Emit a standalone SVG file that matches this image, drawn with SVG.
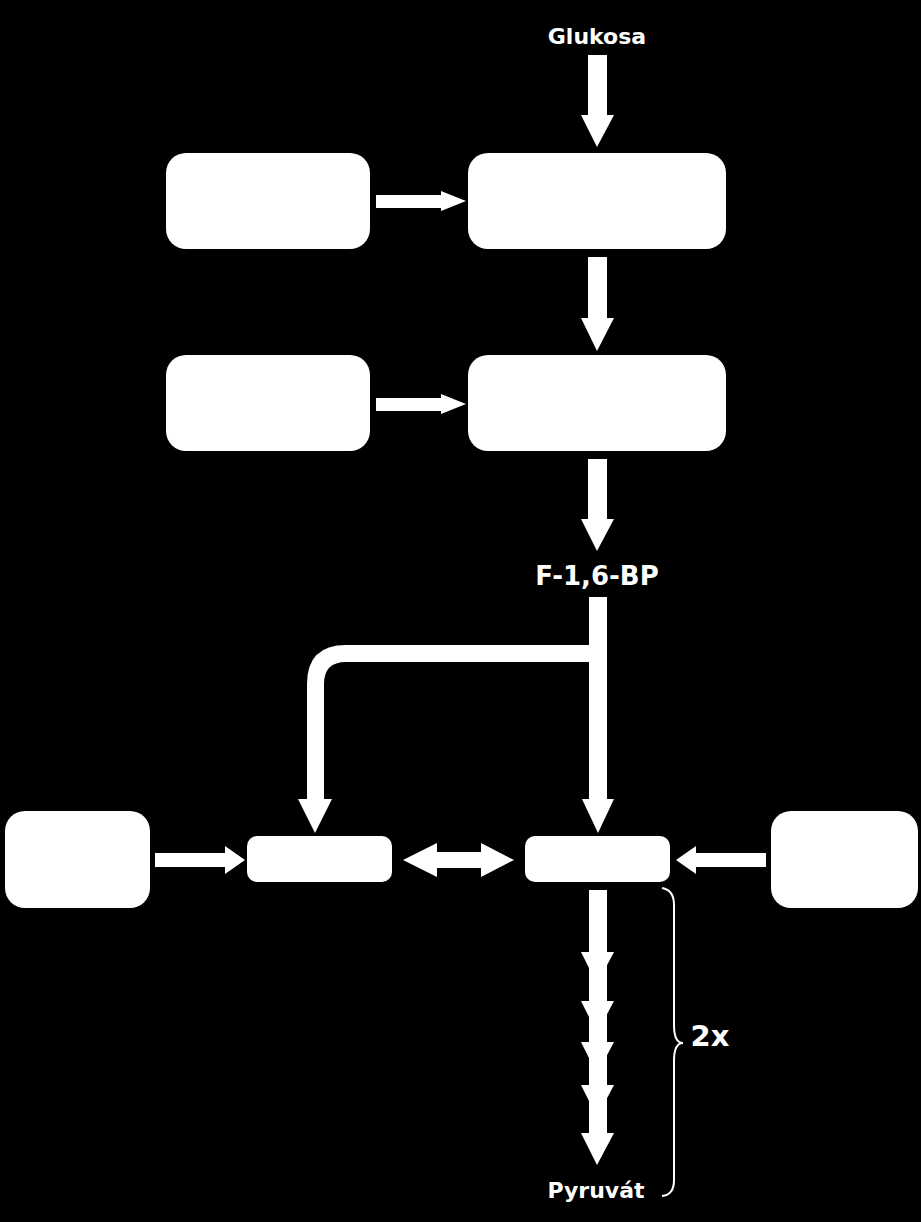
<svg xmlns="http://www.w3.org/2000/svg" width="921" height="1222" viewBox="0 0 921 1222">
<style>
.bg{fill:#000}
.box{fill:#fff}
.arr{fill:#fff;stroke:none}
.lbl{fill:#fff;font-family:"DejaVu Sans","Liberation Sans",sans-serif;font-weight:bold;text-anchor:middle}
.brace{fill:none;stroke:#fff;stroke-width:2}
</style>
<rect class="bg" x="0" y="0" width="921" height="1222"/>
<g id="connectors">
<polygon class="arr" points="588,55 607,55 607,115 614,115 597,147 581,115 588,115"/>
<polygon class="arr" points="376,195 441,195 441,191 466,201 441,211 441,208 376,208"/>
<polygon class="arr" points="588,257 607,257 607,318 614,318 597,351 581,318 588,318"/>
<polygon class="arr" points="376,398 441,398 441,394 466,404 441,414 441,411 376,411"/>
<polygon class="arr" points="588,459 607,459 607,519 614,519 597,551 581,519 588,519"/>
<path class="arr" d="M589,597 H607 V799 H614 L598,833 L582,799 H589 V662 H346 Q324,662 324,684 V799 H332 L315,833 L298,799 H307 V684 Q307,645 346,645 H589 Z"/>
<polygon class="arr" points="403,860 437,843 437,852 481,852 481,843 514,860 481,877 481,868 437,868 437,877"/>
<polygon class="arr" points="155,853 225,853 225,846 245,860 225,874 225,867 155,867"/>
<polygon class="arr" points="766,853 696,853 696,846 676,860 696,874 696,867 766,867"/>
<g>
<polygon class="arr" points="581,952 614,952 597,984"/>
<polygon class="arr" points="581,1001 614,1001 597,1033"/>
<polygon class="arr" points="581,1042 614,1042 597,1074"/>
<polygon class="arr" points="581,1085 614,1085 597,1117"/>
<rect class="arr" x="589" y="890" width="18" height="245"/>
<polygon class="arr" points="581,1133 614,1133 597,1165"/>
</g>
<path class="brace" d="M662,888 Q674,890 674,905 V1025 Q674,1043 683,1043 Q674,1043 674,1061 V1180 Q674,1195 662,1196"/>
</g>
<g id="n-glukosa"><text class="lbl" x="597" y="44" font-size="22">Glukosa</text></g>
<g id="n-a1"><rect class="box" x="166" y="153" width="204" height="96" rx="20"/></g>
<g id="n-b1"><rect class="box" x="468" y="153" width="258" height="96" rx="20"/></g>
<g id="n-a2"><rect class="box" x="166" y="355" width="204" height="96" rx="20"/></g>
<g id="n-b2"><rect class="box" x="468" y="355" width="258" height="96" rx="20"/></g>
<g id="n-f16bp"><text class="lbl" x="597" y="585" font-size="26">F-1,6-BP</text></g>
<g id="n-left"><rect class="box" x="5" y="811" width="145" height="97" rx="20"/></g>
<g id="n-m1"><rect class="box" x="247" y="836" width="145" height="46" rx="10"/></g>
<g id="n-m2"><rect class="box" x="525" y="836" width="145" height="46" rx="10"/></g>
<g id="n-right"><rect class="box" x="771" y="811" width="147" height="97" rx="20"/></g>
<g id="n-2x"><text class="lbl" x="710" y="1046" font-size="29">2x</text></g>
<g id="n-pyruvat"><text class="lbl" x="596" y="1198" font-size="22">Pyruvát</text></g>
</svg>
